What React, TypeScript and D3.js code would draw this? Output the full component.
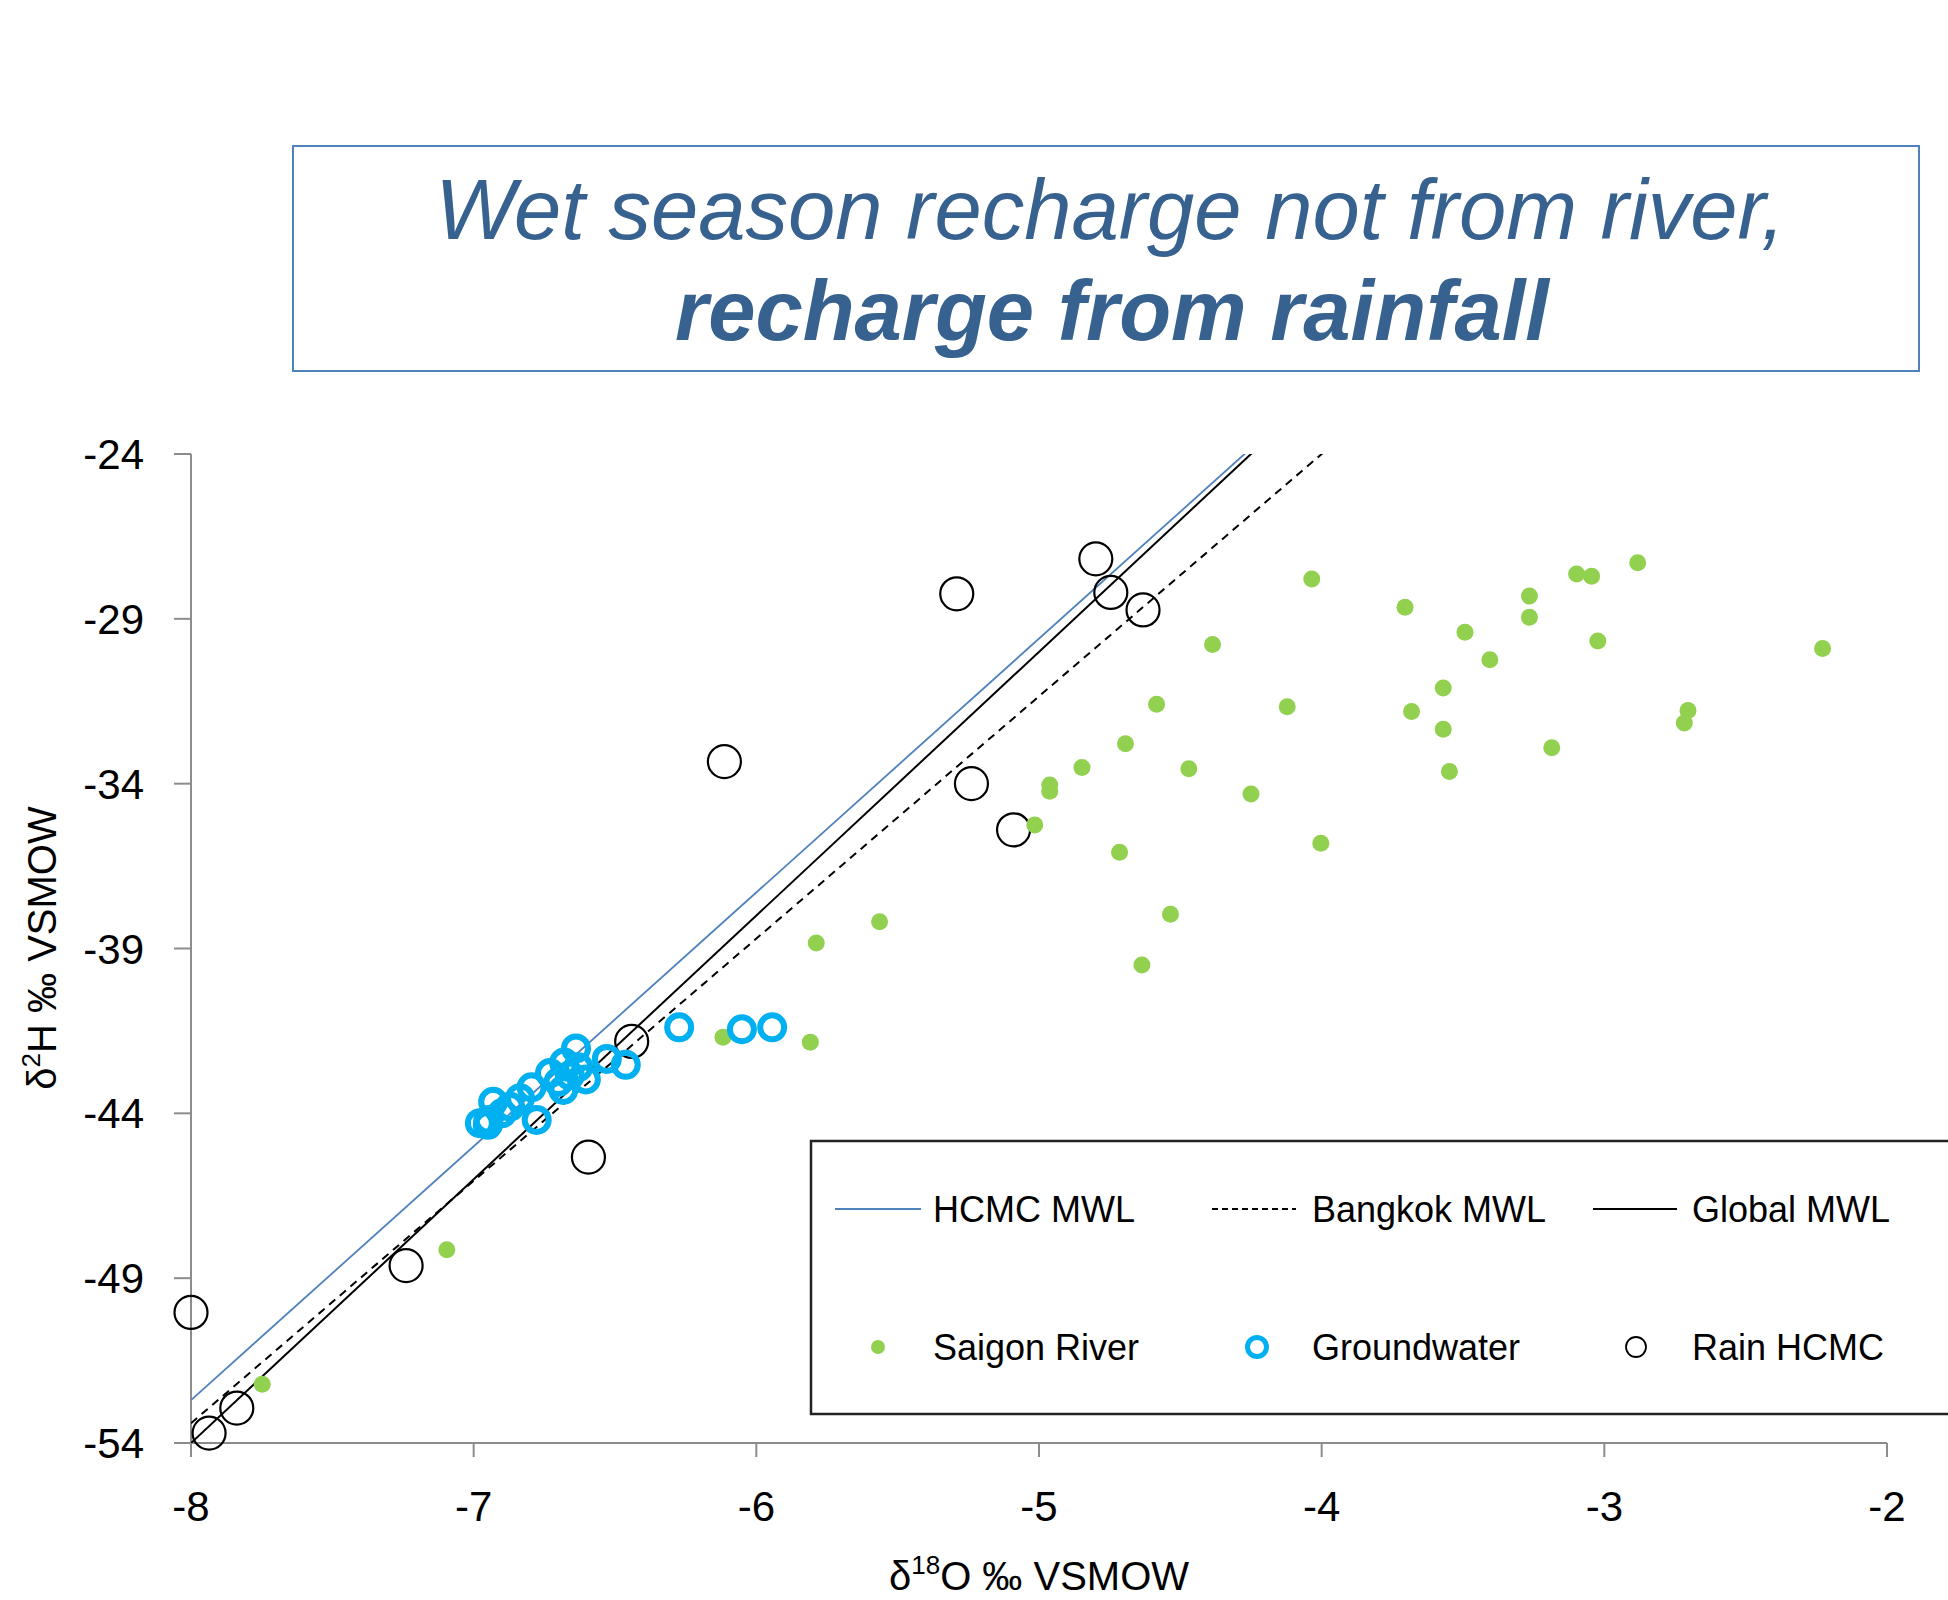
import React from 'react';
import * as d3 from 'd3';

// δ18O, δ2H pairs (‰ VSMOW)
const riverPoints: [number, number][] = [
  [-4.035, -27.79], [-3.705, -28.65], [-3.265, -28.31], [-3.265, -28.95],
  [-3.098, -27.64], [-3.045, -27.71], [-2.882, -27.30], [-4.386, -29.78],
  [-3.493, -29.41], [-3.405, -30.24], [-3.023, -29.67], [-2.228, -29.90],
  [-3.570, -31.10], [-3.682, -31.81], [-4.122, -31.67], [-4.584, -31.59],
  [-3.570, -32.35], [-2.704, -31.78], [-2.717, -32.16], [-3.186, -32.91],
  [-4.694, -32.79], [-4.848, -33.51], [-4.470, -33.55], [-3.548, -33.63],
  [-4.962, -34.04], [-4.962, -34.23], [-4.250, -34.31], [-5.015, -35.25],
  [-4.003, -35.81], [-4.715, -36.08], [-5.564, -38.19], [-4.535, -37.96],
  [-5.788, -38.83], [-4.636, -39.50], [-6.118, -41.69], [-5.809, -41.84],
  [-7.095, -48.14], [-7.748, -52.22],
];

const groundwaterPoints: [number, number][] = [
  [-6.273, -41.39], [-6.051, -41.45], [-5.944, -41.39], [-6.529, -42.35],
  [-6.462, -42.53], [-6.638, -42.03], [-6.680, -42.46], [-6.730, -42.78],
  [-6.603, -42.97], [-6.683, -43.29], [-6.795, -43.21], [-6.836, -43.54],
  [-6.777, -44.20], [-6.931, -43.65], [-6.978, -44.30], [-6.948, -44.20],
  [-6.871, -43.80], [-6.660, -42.85], [-6.700, -43.05], [-6.900, -44.00],
  [-6.950, -44.35], [-6.630, -42.60],
];

const rainPoints: [number, number][] = [
  [-4.799, -27.18], [-4.746, -28.20], [-5.291, -28.24], [-4.632, -28.73],
  [-6.113, -33.33], [-5.239, -34.00], [-5.090, -35.40], [-6.441, -41.82],
  [-6.594, -45.33], [-7.239, -48.62], [-8.0, -50.04], [-7.838, -52.94],
  [-7.936, -53.70],
];

// Meteoric water lines: δ2H = slope · δ18O + intercept
const mwlNames = ['HCMC MWL', 'Bangkok MWL', 'Global MWL'];
const mwlSlopes = [7.7, 7.35, 8];
const mwlIntercepts = [8.9, 5.4, 10];

const xTicks = [-8, -7, -6, -5, -4, -3, -2];
const yTicks = [-24, -29, -34, -39, -44, -49, -54];

const titleLine1 = 'Wet season recharge not from river,';
const titleLine2 = 'recharge from rainfall';

const W = 1948;
const H = 1600;
const plot = { left: 191, right: 1887, top: 454, bottom: 1443 };

const GREEN = '#92d050';
const CYAN = '#00b0f0';
const LINE_BLUE = '#4f81bd';
const TITLE_BLUE = '#37618f';
const AXIS_GREY = '#8c8c8c';
const FONT = '"Liberation Sans", Arial, sans-serif';

const lineStyles = [
  { stroke: LINE_BLUE, width: 1.8, dash: undefined as string | undefined },
  { stroke: '#000', width: 2, dash: '8,6' },
  { stroke: '#000', width: 2, dash: undefined as string | undefined },
];

export default function App() {
  const x = d3.scaleLinear().domain([-8, -2]).range([plot.left, plot.right]);
  const y = d3.scaleLinear().domain([-54, -24]).range([plot.bottom, plot.top]);

  const mwlPaths = mwlNames.map((_, i) => {
    const gen = d3
      .line<number>()
      .x((d) => x(d))
      .y((d) => y(mwlSlopes[i] * d + mwlIntercepts[i]));
    return gen([-8, -2]) || '';
  });

  const legendRow1 = 1209;
  const legendRow2 = 1347;
  const legendLineItems = [
    { x0: 835, x1: 921, tx: 933 },
    { x0: 1212, x1: 1296, tx: 1312 },
    { x0: 1593, x1: 1677, tx: 1692 },
  ];
  const legendMarkerItems = [
    { cx: 878, tx: 933, label: 'Saigon River' },
    { cx: 1257, tx: 1312, label: 'Groundwater' },
    { cx: 1636, tx: 1692, label: 'Rain HCMC' },
  ];

  return (
    <svg
      width={W}
      height={H}
      viewBox={`0 0 ${W} ${H}`}
      style={{ position: 'absolute', left: 0, top: 0, background: '#fff' }}
      fontFamily={FONT}
    >
      <rect x={0} y={0} width={W} height={H} fill="#fff" />

      {/* Title box */}
      <rect x={293} y={146} width={1626} height={225} fill="#fff" stroke={LINE_BLUE} strokeWidth={2} />
      <text x={1110} y={239} textAnchor="middle" fontSize={85} fontStyle="italic" fill={TITLE_BLUE}>
        {titleLine1}
      </text>
      <text x={1112} y={340} textAnchor="middle" fontSize={85} fontStyle="italic" fontWeight="bold" fill={TITLE_BLUE}>
        {titleLine2}
      </text>

      <defs>
        <clipPath id="plot-clip">
          <rect x={plot.left} y={plot.top} width={plot.right - plot.left} height={plot.bottom - plot.top} />
        </clipPath>
      </defs>

      {/* Axes */}
      <line x1={plot.left} x2={plot.left} y1={plot.top} y2={plot.bottom + 14} stroke={AXIS_GREY} strokeWidth={2} />
      <line x1={plot.left - 17} x2={plot.right} y1={plot.bottom} y2={plot.bottom} stroke={AXIS_GREY} strokeWidth={2} />
      {yTicks.map((t) => (
        <g key={`yt${t}`}>
          <line x1={plot.left - 17} x2={plot.left} y1={y(t)} y2={y(t)} stroke={AXIS_GREY} strokeWidth={2} />
          <text x={144} y={y(t)} dy="0.36em" textAnchor="end" fontSize={42} fill="#000">
            {t}
          </text>
        </g>
      ))}
      {xTicks.map((t) => (
        <g key={`xt${t}`}>
          <line x1={x(t)} x2={x(t)} y1={plot.bottom} y2={plot.bottom + 14} stroke={AXIS_GREY} strokeWidth={2} />
          <text x={x(t)} y={1506} dy="0.36em" textAnchor="middle" fontSize={42} fill="#000">
            {t}
          </text>
        </g>
      ))}

      {/* Axis titles */}
      <text x={1039} y={1590} textAnchor="middle" fontSize={40} fill="#000">
        δ<tspan fontSize={26} dy={-16}>18</tspan>
        <tspan dy={16}>O ‰ VSMOW</tspan>
      </text>
      <text transform={`translate(56, 948) rotate(-90)`} textAnchor="middle" fontSize={40} fill="#000">
        δ<tspan fontSize={26} dy={-16}>2</tspan>
        <tspan dy={16}>H ‰ VSMOW</tspan>
      </text>

      {/* Meteoric water lines */}
      <g clipPath="url(#plot-clip)">
        {mwlPaths.map((p, i) => (
          <path
            key={mwlNames[i]}
            d={p}
            fill="none"
            stroke={lineStyles[i].stroke}
            strokeWidth={lineStyles[i].width}
            strokeDasharray={lineStyles[i].dash}
          />
        ))}
      </g>

      {/* Rain HCMC */}
      {rainPoints.map(([a, b], i) => (
        <circle key={`r${i}`} cx={x(a)} cy={y(b)} r={16.5} fill="none" stroke="#000" strokeWidth={2.2} />
      ))}
      {/* Saigon River */}
      {riverPoints.map(([a, b], i) => (
        <circle key={`s${i}`} cx={x(a)} cy={y(b)} r={8.5} fill={GREEN} />
      ))}
      {/* Groundwater */}
      {groundwaterPoints.map(([a, b], i) => (
        <circle key={`g${i}`} cx={x(a)} cy={y(b)} r={12} fill="none" stroke={CYAN} strokeWidth={6} />
      ))}

      {/* Legend */}
      <rect x={811} y={1141} width={1200} height={273} fill="#fff" stroke="#222" strokeWidth={2.5} />
      {legendLineItems.map((it, i) => (
        <g key={`ll${i}`}>
          <line
            x1={it.x0}
            x2={it.x1}
            y1={legendRow1}
            y2={legendRow1}
            stroke={lineStyles[i].stroke}
            strokeWidth={lineStyles[i].width}
            strokeDasharray={lineStyles[i].dash ? '6,4' : undefined}
          />
          <text x={it.tx} y={legendRow1} dy="0.36em" fontSize={36} fill="#000">
            {mwlNames[i]}
          </text>
        </g>
      ))}
      {legendMarkerItems.map((it, i) => (
        <g key={`lm${i}`}>
          {i === 0 && <circle cx={it.cx} cy={legendRow2} r={7} fill={GREEN} />}
          {i === 1 && <circle cx={it.cx} cy={legendRow2} r={9.5} fill="none" stroke={CYAN} strokeWidth={5} />}
          {i === 2 && <circle cx={it.cx} cy={legendRow2} r={10} fill="none" stroke="#000" strokeWidth={1.8} />}
          <text x={it.tx} y={legendRow2} dy="0.36em" fontSize={36} fill="#000">
            {it.label}
          </text>
        </g>
      ))}
    </svg>
  );
}
